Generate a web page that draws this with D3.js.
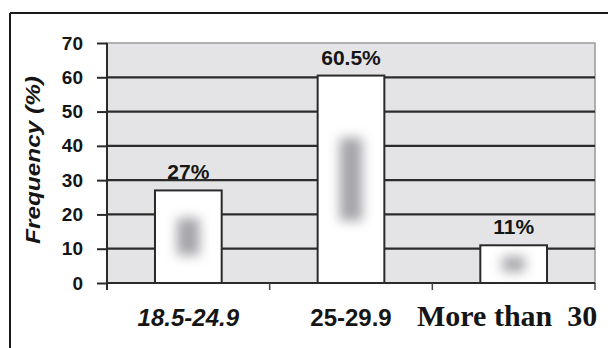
<!DOCTYPE html>
<html>
<head>
<meta charset="utf-8">
<script src="https://cdn.jsdelivr.net/npm/d3@7"></script>
<style>
    html, body { margin: 0; padding: 0; background: #fff; }
    svg { display: block; }
</style>
</head>
<body>
<div id="chart"></div>
<script>
const categories = ["18.5-24.9", "25-29.9", "More than  30"];
const frequencies = [27, 60.5, 11];
const valueLabels = ["27%", "60.5%", "11%"];
const yTicks = [0, 10, 20, 30, 40, 50, 60, 70];

const width = 608;
const height = 348;
const plot = { left: 107, right: 595, top: 43, bottom: 283 };

const svg = d3.select("#chart")
    .append("svg")
    .attr("width", width)
    .attr("height", height);

const defs = svg.append("defs");
defs.append("filter")
    .attr("id", "soft")
    .attr("x", "-100%").attr("y", "-100%")
    .attr("width", "300%").attr("height", "300%")
    .append("feGaussianBlur")
    .attr("stdDeviation", 6);

const x = d3.scaleBand()
    .domain(categories)
    .range([plot.left, plot.right])
    .paddingInner(0.59)
    .paddingOuter(0.295);

const y = d3.scaleLinear()
    .domain([0, 70])
    .range([plot.bottom, plot.top]);

// outer frame (cropped figure border)
svg.append("line")
    .attr("x1", 10).attr("x2", width)
    .attr("y1", 13).attr("y2", 13)
    .attr("stroke", "#1a1a1a").attr("stroke-width", 2);
svg.append("line")
    .attr("x1", 10).attr("x2", 10)
    .attr("y1", 13).attr("y2", height)
    .attr("stroke", "#1a1a1a").attr("stroke-width", 2);

// plot background
svg.append("rect")
    .attr("x", plot.left)
    .attr("y", plot.top)
    .attr("width", plot.right - plot.left)
    .attr("height", plot.bottom - plot.top)
    .attr("fill", "#e4e4e6")
    .attr("stroke", "#9a9a9a")
    .attr("stroke-width", 1.5);

// gridlines
svg.append("g")
    .selectAll("line")
    .data(yTicks.filter(function(d) { return d > 0 && d < 70; }))
    .enter()
    .append("line")
    .attr("x1", plot.left)
    .attr("x2", plot.right)
    .attr("y1", function(d) { return y(d); })
    .attr("y2", function(d) { return y(d); })
    .attr("stroke", "#2c2c2c")
    .attr("stroke-width", 2.2);

// bars
const bars = svg.append("g")
    .selectAll("g")
    .data(categories)
    .enter()
    .append("g");

bars.append("rect")
    .attr("x", function(d) { return x(d); })
    .attr("y", function(d, i) { return y(frequencies[i]); })
    .attr("width", x.bandwidth())
    .attr("height", function(d, i) { return y(0) - y(frequencies[i]); })
    .attr("fill", "#fff")
    .attr("stroke", "#2a2a2a")
    .attr("stroke-width", 2);

bars.append("rect")
    .attr("x", function(d) { return x(d) + x.bandwidth() * 0.33; })
    .attr("y", function(d, i) {
        const h = y(0) - y(frequencies[i]);
        return y(frequencies[i]) + h * 0.3;
    })
    .attr("width", x.bandwidth() * 0.34)
    .attr("height", function(d, i) {
        return (y(0) - y(frequencies[i])) * 0.4;
    })
    .attr("fill", "#8e8e94")
    .attr("opacity", 0.8)
    .attr("filter", "url(#soft)");

bars.append("text")
    .attr("x", function(d) { return x(d) + x.bandwidth() / 2; })
    .attr("y", function(d, i) { return y(frequencies[i]) - 11; })
    .attr("text-anchor", "middle")
    .attr("font-family", "Liberation Sans, Arial, sans-serif")
    .attr("font-weight", "bold")
    .attr("font-size", 21)
    .attr("fill", "#151515")
    .text(function(d, i) { return valueLabels[i]; });

// y axis
const yAxis = svg.append("g")
    .attr("transform", "translate(" + plot.left + ",0)")
    .call(d3.axisLeft(y).tickValues(yTicks).tickSize(10).tickPadding(14).tickSizeOuter(0));

yAxis.select(".domain")
    .attr("stroke", "#2a2a2a")
    .attr("stroke-width", 2)
    .attr("d", "M0," + plot.top + "V" + (plot.bottom + 7));
yAxis.selectAll(".tick line")
    .attr("stroke", "#2a2a2a")
    .attr("stroke-width", 2);
yAxis.selectAll(".tick text")
    .attr("font-family", "Liberation Sans, Arial, sans-serif")
    .attr("font-weight", "bold")
    .attr("font-size", 19)
    .attr("fill", "#151515");

// x baseline and category boundary ticks
svg.append("line")
    .attr("x1", plot.left).attr("x2", plot.right)
    .attr("y1", y(0)).attr("y2", y(0))
    .attr("stroke", "#2a2a2a").attr("stroke-width", 2);

svg.append("g")
    .selectAll("line")
    .data(categories)
    .enter()
    .append("line")
    .attr("x1", function(d) { return x(d) + x.bandwidth() / 2 + x.step() / 2; })
    .attr("x2", function(d) { return x(d) + x.bandwidth() / 2 + x.step() / 2; })
    .attr("y1", y(0))
    .attr("y2", y(0) + 7)
    .attr("stroke", "#444")
    .attr("stroke-width", 1.5);

// category labels (mixed fonts as in the original)
const catFonts = [
    { family: "Liberation Sans, Arial, sans-serif", style: "italic", size: 24 },
    { family: "Liberation Sans, Arial, sans-serif", style: "normal", size: 24 },
    { family: "Liberation Serif, Times New Roman, serif", style: "normal", size: 30 }
];

svg.append("g")
    .selectAll("text")
    .data(categories)
    .enter()
    .append("text")
    .attr("x", function(d, i) {
        return i === 2 ? 417 : x(d) + x.bandwidth() / 2;
    })
    .attr("y", 326)
    .attr("text-anchor", function(d, i) { return i === 2 ? "start" : "middle"; })
    .attr("font-family", function(d, i) { return catFonts[i].family; })
    .attr("font-style", function(d, i) { return catFonts[i].style; })
    .attr("font-size", function(d, i) { return catFonts[i].size; })
    .attr("font-weight", "bold")
    .attr("fill", "#151515")
    .style("white-space", "pre")
    .text(function(d) { return d; });

// y axis title
svg.append("text")
    .attr("transform", "translate(40," + 160 + ") rotate(-90)")
    .attr("text-anchor", "middle")
    .attr("font-family", "Liberation Sans, Arial, sans-serif")
    .attr("font-weight", "bold")
    .attr("font-style", "italic")
    .attr("font-size", 20)
    .attr("textLength", 168)
    .attr("lengthAdjust", "spacingAndGlyphs")
    .attr("fill", "#151515")
    .text("Frequency (%)");
</script>
</body>
</html>
